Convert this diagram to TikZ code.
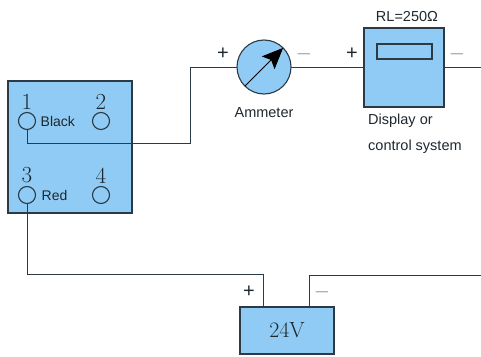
\documentclass[tikz,border=0pt]{standalone}
\usepackage{fontspec}
\setsansfont{Liberation Sans}
\usetikzlibrary{arrows.meta, positioning}
\definecolor{panelblue}{HTML}{8FCBF4}
\definecolor{wirecol}{HTML}{2B3A44}
\definecolor{inkcol}{HTML}{1E282E}

\begin{document}
\begin{tikzpicture}[x=1pt, y=1pt]
	\tikzset {panel/.style={draw=wirecol, line width=1.1pt, fill=panelblue, inner sep=0pt, outer sep=0pt},
		pin/.style={circle, draw=wirecol, line width=1.1pt, minimum size=17pt, inner sep=0pt, outer sep=0pt},
		wire/.style={draw=wirecol, line width=1pt},
		num/.style={text=inkcol, inner sep=0pt, font=\fontsize{23}{23}\selectfont},
		tag/.style={text=inkcol, inner sep=0pt, font=\sffamily\fontsize{14.5}{18}\selectfont},
		smalltag/.style={text=inkcol, inner sep=0pt, font=\sffamily\fontsize{14}{16}\selectfont},
		pluslabel/.style={text=inkcol, inner sep=0pt, font=\sffamily\fontsize{20}{20}\selectfont},
		minuslabel/.style={text=gray, inner sep=0pt, font=\fontsize{21}{21}\selectfont} }
	\useasboundingbox (0,0) rectangle (481,-356);

	\node[panel, minimum width=124pt, minimum height=132pt] (relay) at (70,-147) {};
	\node[pin] (t1) at (27,-121) {};
	\node[pin] (t2) at (101,-121) {};
	\node[pin] (t3) at (27,-195) {};
	\node[pin] (t4) at (101,-195) {};
	\node[num, above=3pt of t1] (n1) {1};
	\node[num, above=3pt of t2] (n2) {2};
	\node[num, above=3pt of t3] (n3) {3};
	\node[num, above=3pt of t4] (n4) {4};
	\node[smalltag, right=5pt of t1] (black) {Black};
	\node[smalltag, right=6pt of t3] (red) {Red};

	\node[panel, circle, minimum size=54pt] (meter) at (264,-67) {};
	\node[panel, minimum width=80pt, minimum height=79pt, right=73pt of meter, yshift=-0.5pt] (display) {};
	\node[draw=wirecol, line width=1.1pt, fill=panelblue, minimum width=55pt, minimum height=15pt, inner sep=0pt] (screen) at (404.5,-51.5) {};
	\node[panel, minimum width=94pt, minimum height=47pt] (supply) at (287,-330.5) {};

	\node[tag, below=13pt of meter] (ammeter) {Ammeter};
	\node[tag, above=6pt of display, xshift=3pt] (load) {RL=250Ω};
	\node[tag, anchor=west] (disp) at (368,-121) {Display or};
	\node[tag, below=12pt of disp.south west, anchor=north west] (ctrl) {control system};
	\node[num, font=\fontsize{22}{22}\selectfont] (volt) at (supply) {24V};

	\node[pluslabel] (p1) at (223,-54) {+};
	\node[minuslabel] (m1) at (304,-54) {\(-\)};
	\node[pluslabel] (p2) at (352,-54) {+};
	\node[minuslabel] (m2) at (457,-54) {\(-\)};
	\node[pluslabel] (p3) at (249,-292) {+};
	\node[minuslabel] (m3) at (322,-292) {\(-\)};

	\coordinate (upA) at (190,-67);
	\coordinate (upB) at (190,-143);
	\coordinate (outA) at (481,-67);
	\coordinate (outB) at (481,-275);
	\coordinate (lowA) at (263,-274);
	\coordinate (lowB) at (309,-275);

	\draw[wire] (t1.south) |- (upB) -- (upA) -- (meter.west);
	\draw[wire] (meter.east) -- (display.west |- meter.east);
	\draw[wire] (display.east |- meter.east) -- (outA);
	\draw[wire] (t3.south) |- (lowA) -- (lowA |- supply.north);
	\draw[wire] (lowB |- supply.north) -- (lowB) -- (outB);
	\draw[wire, draw=black, -{Stealth[length=21pt, width=18pt, inset=4pt]}] (meter.225) -- (meter.45);
\end{tikzpicture}
\end{document}
